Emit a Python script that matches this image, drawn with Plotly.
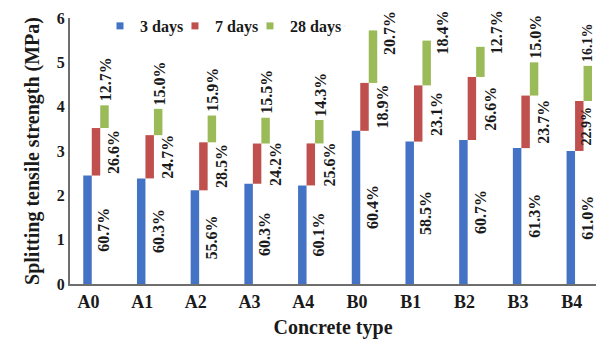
import numpy as np
import plotly.graph_objects as go

# Splitting tensile strength development per concrete mix
concrete_types = ["A0", "A1", "A2", "A3", "A4", "B0", "B1", "B2", "B3", "B4"]
strength_28d = [4.03, 3.95, 3.80, 3.75, 3.70, 5.72, 5.49, 5.35, 5.00, 4.92]  # MPa
# share of the 28-day strength gained in each period (%)
share_3d = [60.7, 60.3, 55.6, 60.3, 60.1, 60.4, 58.5, 60.7, 61.3, 61.0]
share_7d = [26.6, 24.7, 28.5, 24.2, 25.6, 18.9, 23.1, 26.6, 23.7, 22.9]
share_28d = [12.7, 15.0, 15.9, 15.5, 14.3, 20.7, 18.4, 12.7, 15.0, 16.1]

series_names = ["3 days", "7 days", "28 days"]
colors = ["#4472C4", "#C0504D", "#9BBB59"]

FONT = "Liberation Serif"
TXT = "#1a1a1a"
X_RANGE = [-0.484, 9.311]

idx = np.arange(len(concrete_types))
total = np.array(strength_28d)
shares = [np.array(s) for s in (share_3d, share_7d, share_28d)]
segs = [total * s / 100.0 for s in shares]
bases = [np.zeros_like(total), segs[0], segs[0] + segs[1]]

BW = 0.158                 # width of one step bar
offsets = [-BW, 0.0, BW]   # steps placed side by side within a category

fig = go.Figure()
for k in range(3):
    fig.add_trace(go.Bar(
        x=idx + offsets[k], y=segs[k], base=bases[k], width=BW,
        marker=dict(color=colors[k], line=dict(width=0)),
        showlegend=False, name=series_names[k],
    ))
for k in range(3):
    # small square legend keys
    fig.add_trace(go.Scatter(
        x=[None], y=[None], mode="markers", name=series_names[k],
        marker=dict(symbol="square", size=7, color=colors[k]),
    ))
# blank trailing entry so the last legend text is not clipped
fig.add_trace(go.Scatter(x=[None], y=[None], mode="markers", name=" ",
                         marker=dict(size=1, opacity=0), hoverinfo="skip"))

lab_font = dict(family=FONT, size=16, color=TXT, weight="bold")
edge_font = dict(family=FONT, size=14, color=TXT, weight="bold")
ann = []
LABEL_LEN = 0.85  # approximate rotated label length in MPa units
X_EDGE = X_RANGE[1] - 0.16


def label_x(x):
    """Keep a label inside the right edge; shrink it a little when moved."""
    return (x, lab_font) if x <= X_EDGE else (X_EDGE, edge_font)


for i in idx:
    # 3-day share, centred on the first step
    ann.append(dict(x=i + 0.15, y=segs[0][i] / 2, text=f"{share_3d[i]:.1f}%",
                    textangle=-90, showarrow=False, font=lab_font,
                    xanchor="center", yanchor="middle"))
    # 7-day share, beside the second step
    x7, f7 = label_x(i + 0.34)
    ann.append(dict(x=x7, y=bases[1][i] + segs[1][i] / 2,
                    text=f"{share_7d[i]:.1f}%", textangle=-90, showarrow=False,
                    font=f7, xanchor="center", yanchor="middle"))
    # 28-day share: on top of the last step, or beside it when it would not fit
    top = bases[2][i] + segs[2][i]
    if top + 0.05 + LABEL_LEN <= 6.1:
        x28, f28 = label_x(i + 0.18)
        ann.append(dict(x=x28, y=top + 0.04,
                        text=f"{share_28d[i]:.1f}%", textangle=-90,
                        showarrow=False, font=f28,
                        xanchor="center", yanchor="bottom"))
    else:
        ann.append(dict(x=i + 0.46, y=1.035, yref="y domain",
                        text=f"{share_28d[i]:.1f}%", textangle=-90,
                        showarrow=False, font=lab_font,
                        xanchor="center", yanchor="top"))

fig.update_layout(
    width=596, height=343, autosize=False,
    margin=dict(l=70, r=0, t=18, b=59),
    plot_bgcolor="white", paper_bgcolor="white",
    barmode="overlay",
    annotations=ann,
    legend=dict(orientation="h", x=0.057, xanchor="left", y=0.97,
                yanchor="middle", font=dict(family=FONT, size=16, color=TXT,
                                            weight="bold"),
                itemwidth=30, entrywidth=30, entrywidthmode="pixels",
                bgcolor="rgba(0,0,0,0)", tracegroupgap=0),
    xaxis=dict(range=X_RANGE, tickvals=idx - 0.14,
               ticktext=concrete_types, showline=True, linecolor="#6e6e6e",
               linewidth=2, showgrid=False, zeroline=False, ticks="",
               tickfont=dict(family=FONT, size=18, color=TXT, weight="bold"),
               title=dict(text="Concrete type", standoff=9,
                          font=dict(family=FONT, size=20, color=TXT,
                                    weight="bold"))),
    yaxis=dict(range=[0, 6], dtick=1, showline=True, linecolor="#6e6e6e",
               linewidth=2, showgrid=False, zeroline=False, ticks="",
               tickfont=dict(family=FONT, size=16, color=TXT, weight="bold"),
               title=dict(text="Splitting tensile strength (MPa)", standoff=12,
                          font=dict(family=FONT, size=20, color=TXT,
                                    weight="bold"))),
)

fig.write_html("out.html")
